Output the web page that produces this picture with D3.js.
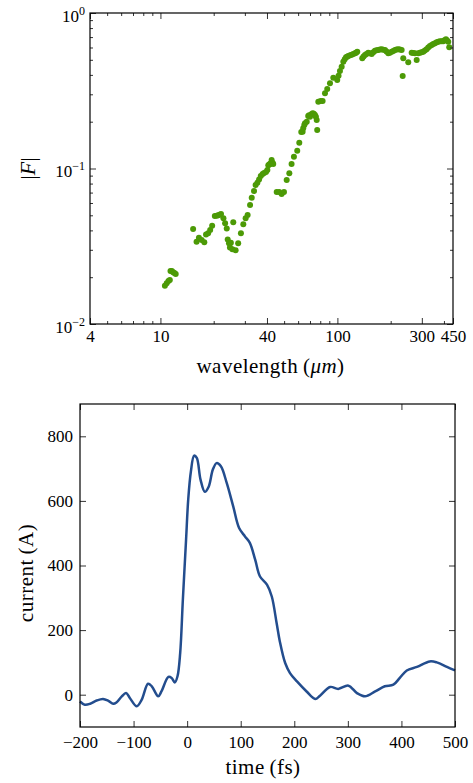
<!DOCTYPE html>
<html lang="en">
<head>
<meta charset="utf-8">
<title>Form factor and current profile</title>
<script src="https://d3js.org/d3.v7.min.js"></script>
<style>
  body { margin: 0; background: #fff; }
  svg text { font-family: "Liberation Serif", "DejaVu Serif", serif !important; }
</style>
</head>
<body>
<script>
// |F| against wavelength (um)
var wavelength = [
  10.6, 10.85, 11.1, 11.3, 11.4, 11.6, 11.8, 12.0, 12.2,
  15.3, 16.0, 16.5, 17.1, 17.7, 18.1, 18.6, 19.1, 19.6,
  20.3, 20.8, 21.2, 21.6, 22.0, 22.7, 23.2, 23.7, 25.8,
  24.0, 24.4, 24.7, 25.0, 25.5, 26.6, 27.5, 28.5, 29.4,
  30.3, 31.1, 32.1, 32.8, 33.8, 34.5, 35.3, 36.1, 36.9,
  37.8, 38.5, 39.5, 40.2, 40.7, 41.2, 41.6, 42.0, 42.5, 43.0, 43.4,
  45.4, 46.9, 48.4, 49.9, 51.7, 53.5, 55.1, 56.8, 59.3,
  60.9, 62.5, 63.6, 64.1, 65.0, 65.6, 67.1, 68.4, 69.2,
  70.0, 71.2, 72.5, 73.6, 74.7, 75.6, 76.4, 76.9,
  78.0, 80.4, 82.5, 85.1, 87.6, 90.8, 94.8, 99.8, 101.5,
  103.4, 105.7, 108.0, 110.0, 111.8, 113.5, 115.2, 118.0, 120.4,
  123.0, 125.7, 127.5, 129.5, 138.2, 140.5, 143.2, 146.0,
  149.4, 152.5, 156.2, 159.5, 163.0, 166.5, 170.2, 174.0, 177.8,
  181.5, 185.7, 189.5, 193.8, 198.0, 202.6, 207.0, 211.5, 216.0,
  220.8, 225.5, 230.7, 235.6, 233.8, 251.4, 262.8, 268.5, 274.3,
  280.5, 286.5, 292.7, 299.0, 305.5, 312.0, 319.3, 326.0, 333.4,
  341.0, 348.0, 356.0, 363.8, 371.5, 379.8, 388.0, 396.3, 403.0, 410.6, 417.0, 423.1, 428.5
];
var formFactor = [
  0.0176, 0.0183, 0.0189, 0.0192, 0.0219, 0.0219, 0.0215, 0.0213, 0.0210,
  0.0408, 0.0338, 0.0359, 0.0347, 0.0335, 0.0377, 0.0383, 0.0402, 0.0429,
  0.0495, 0.0497, 0.0500, 0.0505, 0.0510, 0.0478, 0.0444, 0.0412, 0.0451,
  0.0350, 0.0330, 0.0311, 0.0333, 0.0302, 0.0298, 0.0330, 0.0383, 0.0438,
  0.0478, 0.0502, 0.0582, 0.0649, 0.0717, 0.0783, 0.0810, 0.0850, 0.0895,
  0.0922, 0.0935, 0.0950, 0.0978, 0.1049, 0.1060, 0.1069, 0.1080, 0.1134, 0.1090, 0.1069,
  0.0706, 0.0706, 0.0686, 0.0706, 0.0843, 0.0931, 0.1069, 0.1191, 0.1302,
  0.1465, 0.1717, 0.1725, 0.1814, 0.1905, 0.1953, 0.2000, 0.2176, 0.2200,
  0.2153, 0.2230, 0.2265, 0.2250, 0.2208, 0.2150, 0.2051, 0.1768,
  0.2689, 0.2717, 0.2717, 0.3045, 0.3245, 0.3531, 0.3836, 0.3708, 0.3950,
  0.4236, 0.4515, 0.4862, 0.5050, 0.5188, 0.5240, 0.5289, 0.5340, 0.5392,
  0.5450, 0.5505, 0.5560, 0.5638, 0.5112, 0.5250, 0.5370, 0.5450,
  0.5555, 0.5500, 0.5449, 0.5600, 0.5723, 0.5750, 0.5782, 0.5820, 0.5843,
  0.5800, 0.5782, 0.5650, 0.5505, 0.5550, 0.5638, 0.5700, 0.5782, 0.5820,
  0.5843, 0.5820, 0.5782, 0.5112, 0.3934, 0.4819, 0.5555, 0.5530, 0.5505,
  0.4985, 0.5520, 0.5555, 0.5600, 0.5638, 0.5740, 0.5843, 0.6000, 0.6135,
  0.6230, 0.6319, 0.6400, 0.6481, 0.6540, 0.6577, 0.6577, 0.6577, 0.6680, 0.6776, 0.6650, 0.6538, 0.6017
];

// current profile (A) against time (fs)
var time = [-200, -191, -181, -169, -157, -147, -138, -132, -122, -114,
  -107, -94, -85, -73, -66, -54, -48, -35, -29, -23,
  -18, -13, -8, -2, 2, 7, 13, 18, 25, 33,
  40, 48, 55, 63, 74, 86, 97, 108, 117, 127,
  136, 149, 158, 167, 173, 183, 192, 205, 223, 239,
  248, 267, 282, 301, 317, 332, 351, 369, 385, 397,
  410, 429, 453, 466, 485, 500];
var current = [-21, -31, -28, -18, -13, -19, -28, -24, -5, 5,
  -10, -36, -16, 34, 26, -5, 10, 55, 52, 38,
  57, 129, 294, 480, 604, 691, 740, 733, 666, 628,
  643, 697, 717, 707, 655, 583, 516, 490, 470, 418,
  366, 341, 304, 222, 165, 98, 67, 41, 10, -13,
  -3, 24, 18, 28, 5, -5, 10, 26, 31, 52,
  75, 86, 103, 100, 86, 75];

// ticks
var wlLabels = [4, 10, 40, 100, 300, 450];
var wlMinor = [5, 6, 7, 8, 9, 20, 30, 50, 60, 70, 80, 90, 200, 400];
var ffMajor = [0.01, 0.1, 1];
var ffMinor = [0.02, 0.03, 0.04, 0.05, 0.06, 0.07, 0.08, 0.09,
               0.2, 0.3, 0.4, 0.5, 0.6, 0.7, 0.8, 0.9];
var timeTicks = [-200, -100, 0, 100, 200, 300, 400, 500];
var currentTicks = [0, 200, 400, 600, 800];

var serif = "'Liberation Serif', 'DejaVu Serif', serif";
var width = 473, height = 783;
var svg = d3.select("body").append("svg")
    .attr("width", width)
    .attr("height", height)
    .attr("font-family", serif);

function styleTicks(g) {
  g.attr("font-family", serif);
  g.select(".domain").remove();
  g.selectAll(".tick line").attr("stroke", "#333").attr("stroke-width", 1);
  g.selectAll(".tick text").attr("font-size", "17px").attr("fill", "#000");
}

// ---------- top panel ----------
var p1 = {left: 90, right: 453, top: 13, bottom: 324};
var x1 = d3.scaleLog().domain([4, 450]).range([p1.left, p1.right]);
var y1 = d3.scaleLog().domain([0.01, 1]).range([p1.bottom, p1.top]);

svg.append("g").selectAll("circle")
    .data(wavelength.map(function(w, i) { return [w, formFactor[i]]; }))
    .join("circle")
    .attr("cx", function(d) { return x1(d[0]); })
    .attr("cy", function(d) { return y1(d[1]); })
    .attr("r", 3)
    .attr("fill", "#4c9a06");

svg.append("g").attr("transform", "translate(0," + p1.bottom + ")")
    .call(d3.axisBottom(x1).tickValues(wlLabels).tickSize(-6).tickPadding(6).tickFormat(d3.format("d")))
    .call(styleTicks);
svg.append("g").attr("transform", "translate(0," + p1.bottom + ")")
    .call(d3.axisBottom(x1).tickValues(wlMinor).tickSize(-3).tickFormat(""))
    .call(styleTicks);
svg.append("g").attr("transform", "translate(0," + p1.top + ")")
    .call(d3.axisTop(x1).tickValues(wlLabels).tickSize(-6).tickFormat(""))
    .call(styleTicks);
svg.append("g").attr("transform", "translate(0," + p1.top + ")")
    .call(d3.axisTop(x1).tickValues(wlMinor).tickSize(-3).tickFormat(""))
    .call(styleTicks);

var yl = svg.append("g").attr("transform", "translate(" + p1.left + ",0)")
    .call(d3.axisLeft(y1).tickValues(ffMajor).tickSize(-6).tickPadding(5))
    .call(styleTicks);
yl.selectAll(".tick text").text(null).attr("dy", null).attr("y", 8)
  .each(function(d) {
    var e = Math.round(Math.log10(d));
    var t = d3.select(this);
    t.append("tspan").text("10");
    t.append("tspan").attr("dy", -7).attr("font-size", "12px")
      .text(e < 0 ? "\u2212" + (-e) : String(e));
  });
svg.append("g").attr("transform", "translate(" + p1.left + ",0)")
    .call(d3.axisLeft(y1).tickValues(ffMinor).tickSize(-3).tickFormat(""))
    .call(styleTicks);
svg.append("g").attr("transform", "translate(" + p1.right + ",0)")
    .call(d3.axisRight(y1).tickValues(ffMajor).tickSize(-6).tickFormat(""))
    .call(styleTicks);
svg.append("g").attr("transform", "translate(" + p1.right + ",0)")
    .call(d3.axisRight(y1).tickValues(ffMinor).tickSize(-3).tickFormat(""))
    .call(styleTicks);

svg.append("rect")
    .attr("x", p1.left).attr("y", p1.top)
    .attr("width", p1.right - p1.left).attr("height", p1.bottom - p1.top)
    .attr("fill", "none").attr("stroke", "#000").attr("stroke-width", 1.2);

var xl1 = svg.append("text")
    .attr("x", (p1.left + p1.right) / 2 - 1).attr("y", 373)
    .attr("text-anchor", "middle").attr("font-size", "21px")
    .attr("letter-spacing", "0.5px");
xl1.append("tspan").text("wavelength\u2009(");
xl1.append("tspan").attr("font-style", "italic").text("\u03bcm");
xl1.append("tspan").text(")");

var yt1 = svg.append("text")
    .attr("transform", "translate(35," + (p1.top + p1.bottom) / 2 + ") rotate(-90)")
    .attr("text-anchor", "middle").attr("font-size", "22px");
yt1.append("tspan").text("|");
yt1.append("tspan").attr("font-style", "italic").text("F");
yt1.append("tspan").text("|");

// ---------- bottom panel ----------
var p2 = {left: 80, right: 455, top: 404, bottom: 727};
var x2 = d3.scaleLinear().domain([-200, 500]).range([p2.left, p2.right]);
var y2 = d3.scaleLinear().domain([-100, 900]).range([p2.bottom, p2.top]);

svg.append("path")
    .datum(time.map(function(t, i) { return [t, current[i]]; }))
    .attr("fill", "none")
    .attr("stroke", "#234d8e")
    .attr("stroke-width", 2.5)
    .attr("stroke-linejoin", "round")
    .attr("d", d3.line()
        .x(function(d) { return x2(d[0]); })
        .y(function(d) { return y2(d[1]); })
        .curve(d3.curveCatmullRom.alpha(0.5)));

svg.append("g").attr("transform", "translate(0," + p2.bottom + ")")
    .call(d3.axisBottom(x2).tickValues(timeTicks).tickSize(-6).tickPadding(9))
    .call(styleTicks);
svg.append("g").attr("transform", "translate(0," + p2.top + ")")
    .call(d3.axisTop(x2).tickValues(timeTicks).tickSize(-6).tickFormat(""))
    .call(styleTicks);
svg.append("g").attr("transform", "translate(" + p2.left + ",0)")
    .call(d3.axisLeft(y2).tickValues(currentTicks).tickSize(-6).tickPadding(7))
    .call(styleTicks);
svg.append("g").attr("transform", "translate(" + p2.right + ",0)")
    .call(d3.axisRight(y2).tickValues(currentTicks).tickSize(-6).tickFormat(""))
    .call(styleTicks);

svg.append("rect")
    .attr("x", p2.left).attr("y", p2.top)
    .attr("width", p2.right - p2.left).attr("height", p2.bottom - p2.top)
    .attr("fill", "none").attr("stroke", "#000").attr("stroke-width", 1.2);

svg.append("text")
    .attr("x", 263).attr("y", 774)
    .attr("text-anchor", "middle").attr("font-size", "21px")
    .attr("letter-spacing", "0.5px")
    .text("time\u2009(fs)");

svg.append("text")
    .attr("transform", "translate(33,573) rotate(-90)")
    .attr("text-anchor", "middle").attr("font-size", "21px")
    .attr("letter-spacing", "0.5px")
    .text("current\u2009(A)");
</script>
</body>
</html>
